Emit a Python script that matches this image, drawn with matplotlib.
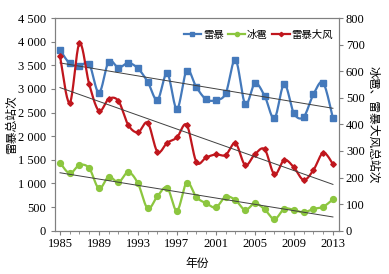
import numpy as np
import matplotlib
matplotlib.use("Agg")
import matplotlib.pyplot as plt
from matplotlib.ticker import FuncFormatter, MultipleLocator
from matplotlib.lines import Line2D

years = list(range(1985, 2014))
thunder = [3830, 3540, 3490, 3525, 2920, 3580, 3450, 3550, 3434, 3150, 2770, 3330, 2575, 3390, 3033,
           2780, 2765, 2906, 3620, 2680, 3118, 2850, 2380, 3103, 2483, 2411, 2885, 3130, 2380]
hail = [256, 216, 247, 235, 159, 203, 182, 220, 178, 84, 130, 162, 75, 181, 126,
        103, 88, 128, 115, 78, 103, 80, 43, 82, 78, 69, 82, 90, 118]
gale = [657, 481, 705, 551, 451, 496, 488, 398, 370, 406, 297, 331, 351, 398, 258,
        276, 287, 285, 329, 247, 288, 306, 212, 266, 238, 191, 228, 293, 251]
x_ticks = [1985, 1989, 1993, 1997, 2001, 2005, 2009, 2013]
labels = ["雷暴", "冰雹", "雷暴大风"]

plt.rcParams["font.family"] = ["Liberation Serif", "Noto Sans CJK SC", "DejaVu Sans"]
CJK = ["Noto Sans CJK SC", "DejaVu Sans"]

def smooth(x, y, n=20):
    x = np.asarray(x, float); y = np.asarray(y, float)
    P = np.column_stack([x, y])
    Pe = np.vstack([P[0], P, P[-1]])
    out = []
    t = np.linspace(0, 1, n)[:, None]
    for i in range(len(P) - 1):
        p0, p1, p2, p3 = Pe[i], Pe[i + 1], Pe[i + 2], Pe[i + 3]
        c1 = p1 + (p2 - p0) / 6
        c2 = p2 - (p3 - p1) / 6
        seg = (1 - t) ** 3 * p1 + 3 * (1 - t) ** 2 * t * c1 + 3 * (1 - t) * t ** 2 * c2 + t ** 3 * p2
        out.append(seg if i == 0 else seg[1:])
    s = np.vstack(out)
    return s[:, 0], s[:, 1]

blue = "#4479BB"
green = "#8CC63F"
red = "#C0161D"

fig = plt.figure(figsize=(3.89, 2.74), dpi=100)
ax = fig.add_axes([0.1414, 0.158, 0.730, 0.776])
ax2 = ax.twinx()

yr = np.array(years, float)

sx, sy = smooth(yr, thunder)
ax.plot(sx, sy, color=blue, lw=1.6, zorder=3)
ax.plot(yr, thunder, ls="none", marker="s", ms=4.2, color=blue, zorder=4)
k, b = np.polyfit(yr, thunder, 1)
ax.plot([yr[0], yr[-1]], [k * yr[0] + b, k * yr[-1] + b], color="#404040", lw=0.7, zorder=5)

sx, sy = smooth(yr, hail)
ax2.plot(sx, sy, color=green, lw=1.6, zorder=3)
ax2.plot(yr, hail, ls="none", marker="o", ms=4.2, color=green, zorder=4)
k, b = np.polyfit(yr, hail, 1)
ax2.plot([yr[0], yr[-1]], [k * yr[0] + b, k * yr[-1] + b], color="#404040", lw=0.7, zorder=5)

sx, sy = smooth(yr, gale)
ax2.plot(sx, sy, color=red, lw=1.6, zorder=3)
ax2.plot(yr, gale, ls="none", marker="D", ms=2.8, color=red, zorder=4)
k, b = np.polyfit(yr, gale, 1)
ax2.plot([yr[0], yr[-1]], [k * yr[0] + b, k * yr[-1] + b], color="#404040", lw=0.7, zorder=5)

ax.set_xlim(1984.49, 2013.62)
ax.set_ylim(0, 4500)
ax2.set_ylim(0, 800)
ax.set_xticks(x_ticks)
ax.xaxis.set_minor_locator(MultipleLocator(1))
ax.yaxis.set_major_locator(MultipleLocator(500))
ax2.yaxis.set_major_locator(MultipleLocator(100))
ax.yaxis.set_major_formatter(FuncFormatter(lambda v, p: f"{int(v):,}".replace(",", " ")))

for a in (ax, ax2):
    for s in a.spines.values():
        s.set_color("#808080")
        s.set_linewidth(0.8)
    a.tick_params(colors="#808080", labelcolor="black", direction="out", length=3, width=0.8, labelsize=9)
ax.tick_params(axis="x", which="minor", direction="out", length=2, color="#808080")
ax.tick_params(axis="x", pad=2)
ax2.tick_params(axis="y", pad=2)

ax.set_xlabel("年份", family=CJK, fontsize=8.5, labelpad=5)
ax.set_ylabel("雷暴总站次", family=CJK, fontsize=8.5, labelpad=0)
ax2.set_ylabel("冰雹、雷暴大风总站次", family=CJK, fontsize=8.5, rotation=270, labelpad=11)

handles = [
    Line2D([], [], color=blue, lw=1.6, marker="s", ms=3),
    Line2D([], [], color=green, lw=1.6, marker="o", ms=3),
    Line2D([], [], color=red, lw=1.6, marker="D", ms=2.2),
]
leg = ax2.legend(handles, labels, loc="upper right", bbox_to_anchor=(1.0, 0.975), ncol=3, frameon=False,
                 prop={"family": CJK, "size": 7.5}, handlelength=1.7, handletextpad=0.15,
                 columnspacing=0.4, borderaxespad=0.2)

fig.savefig("out.png", dpi=100)
